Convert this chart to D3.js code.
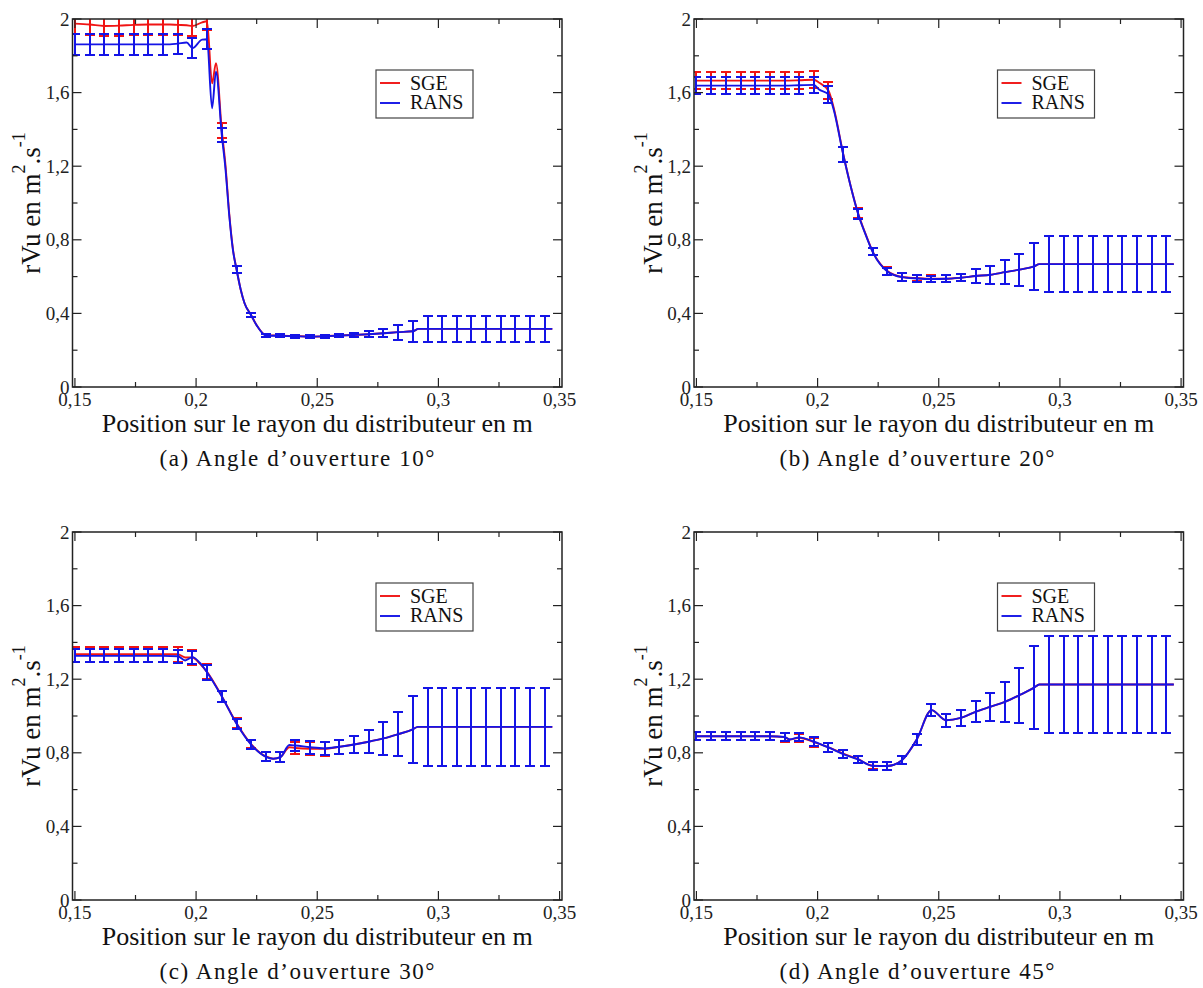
<!DOCTYPE html>
<html><head><meta charset="utf-8">
<script src="https://cdn.jsdelivr.net/npm/d3@7"></script>
<style>body{margin:0;background:#fff} svg{display:block}</style>
</head><body>
<svg id="chart" width="1203" height="988"></svg>
<script>
// ---------- shared labels ----------
const xMajorTicks = [0.15, 0.2, 0.25, 0.3, 0.35];
const xTickLabels = ["0,15", "0,2", "0,25", "0,3", "0,35"];
const xMinorTicks = [0.175, 0.225, 0.275, 0.325];
const yMajorTicks = [0, 0.4, 0.8, 1.2, 1.6, 2];
const yTickLabels = ["0", "0,4", "0,8", "1,2", "1,6", "2"];
const yMinorTicks = [0.2, 0.6, 1.0, 1.4, 1.8];
const seriesNames = ["SGE", "RANS"];
const xTitle = "Position sur le rayon du distributeur en m";
const captions = ["(a) Angle d\u2019ouverture 10\u00b0", "(b) Angle d\u2019ouverture 20\u00b0",
                  "(c) Angle d\u2019ouverture 30\u00b0", "(d) Angle d\u2019ouverture 45\u00b0"];

// ---------- panel (a) 10° ----------
const rA = [0.1500,0.1561,0.1621,0.1682,0.1742,0.1803,0.1864,0.1892,0.1924,0.1961,0.1985,0.2025,0.2045,0.2066,0.2082,0.2106,0.2121,0.2137,0.2152,0.2167,0.2184,0.2200,0.2227,0.2250,0.2288,0.2348,0.2409,0.2470,0.2530,0.2591,0.2652,0.2712,0.2773,0.2833,0.2894,0.2918,0.2955,0.3015,0.3076,0.3136,0.3197,0.3258,0.3318,0.3379,0.3439,0.3470];
const sgeA = [1.975,1.970,1.962,1.964,1.968,1.970,1.970,1.970,1.968,1.966,1.962,1.982,1.988,1.650,1.760,1.395,1.210,0.940,0.750,0.640,0.530,0.455,0.392,0.335,0.282,0.279,0.277,0.274,0.276,0.280,0.283,0.287,0.292,0.298,0.303,0.316,0.316,0.316,0.316,0.316,0.316,0.316,0.316,0.316,0.316,0.316];
const sgeErrA = [0.055,0.055,0.055,0.055,0.055,0.055,0.055,0,0.055,0,0.055,0,0.05,0,0,0.04,0,0,0,0.018,0,0,0.011,0,0.008,0.008,0.008,0.008,0.008,0.009,0.011,0.015,0.022,0.040,0.056,0,0.072,0.072,0.072,0.072,0.072,0.072,0.072,0.072,0.072,0];
const ransA = [1.862,1.862,1.862,1.862,1.862,1.862,1.862,1.862,1.866,1.872,1.842,1.888,1.890,1.515,1.714,1.370,1.190,0.930,0.745,0.638,0.530,0.455,0.390,0.335,0.280,0.278,0.276,0.274,0.276,0.279,0.283,0.287,0.292,0.298,0.303,0.316,0.316,0.316,0.316,0.316,0.316,0.316,0.316,0.316,0.316,0.316];
const ransErrA = [0.055,0.055,0.055,0.055,0.055,0.055,0.055,0,0.055,0,0.055,0,0.055,0,0,0.04,0,0,0,0.018,0,0,0.011,0,0.008,0.008,0.008,0.008,0.008,0.009,0.011,0.015,0.022,0.040,0.056,0,0.072,0.072,0.072,0.072,0.072,0.072,0.072,0.072,0.072,0];

// ---------- panel (b) 20° ----------
const rB = [0.1500,0.1561,0.1621,0.1682,0.1742,0.1803,0.1864,0.1924,0.1985,0.2005,0.2045,0.2066,0.2106,0.2137,0.2167,0.2197,0.2227,0.2288,0.2348,0.2409,0.2470,0.2530,0.2591,0.2652,0.2712,0.2773,0.2833,0.2894,0.2915,0.2955,0.3015,0.3076,0.3136,0.3197,0.3258,0.3318,0.3379,0.3439,0.3470];
const sgeB = [1.665,1.665,1.665,1.665,1.665,1.665,1.665,1.667,1.670,1.655,1.610,1.520,1.265,1.090,0.945,0.835,0.737,0.630,0.598,0.592,0.588,0.588,0.594,0.603,0.610,0.624,0.638,0.656,0.668,0.668,0.668,0.668,0.668,0.668,0.668,0.668,0.668,0.668,0.668];
const sgeErrB = [0.045,0.045,0.045,0.045,0.045,0.045,0.045,0.045,0.045,0,0.045,0,0.04,0,0.027,0,0.02,0.02,0.02,0.018,0.018,0.018,0.02,0.037,0.05,0.066,0.087,0.127,0,0.151,0.151,0.151,0.151,0.151,0.151,0.151,0.151,0.151,0];
const ransB = [1.638,1.638,1.638,1.638,1.638,1.638,1.638,1.640,1.642,1.618,1.590,1.510,1.262,1.088,0.942,0.832,0.735,0.628,0.597,0.590,0.587,0.588,0.594,0.603,0.610,0.624,0.638,0.656,0.668,0.668,0.668,0.668,0.668,0.668,0.668,0.668,0.668,0.668,0.668];
const ransErrB = [0.045,0.045,0.045,0.045,0.045,0.045,0.045,0.045,0.045,0,0.045,0,0.04,0,0.027,0,0.02,0.02,0.02,0.018,0.018,0.018,0.02,0.037,0.05,0.066,0.087,0.127,0,0.151,0.151,0.151,0.151,0.151,0.151,0.151,0.151,0.151,0];

// ---------- panel (c) 30° ----------
const rC = [0.1500,0.1561,0.1621,0.1682,0.1742,0.1803,0.1864,0.1924,0.1955,0.1985,0.2015,0.2045,0.2106,0.2167,0.2227,0.2288,0.2318,0.2348,0.2385,0.2409,0.2470,0.2530,0.2591,0.2652,0.2712,0.2773,0.2833,0.2894,0.2915,0.2955,0.3015,0.3076,0.3136,0.3197,0.3258,0.3318,0.3379,0.3439,0.3470];
const sgeC = [1.336,1.336,1.336,1.336,1.336,1.336,1.336,1.336,1.318,1.318,1.285,1.240,1.108,0.960,0.847,0.780,0.768,0.777,0.830,0.826,0.822,0.822,0.832,0.845,0.860,0.878,0.901,0.927,0.941,0.941,0.941,0.941,0.941,0.941,0.941,0.941,0.941,0.941,0.941];
const sgeErrC = [0.04,0.04,0.04,0.04,0.04,0.04,0.04,0.04,0,0.04,0,0.04,0.03,0.027,0.022,0.024,0,0.027,0,0.03,0.035,0.037,0.037,0.045,0.063,0.089,0.12,0.18,0,0.213,0.213,0.213,0.213,0.213,0.213,0.213,0.213,0.213,0];
const ransC = [1.327,1.327,1.327,1.327,1.327,1.327,1.327,1.325,1.302,1.320,1.290,1.238,1.106,0.958,0.845,0.778,0.768,0.776,0.842,0.840,0.830,0.824,0.833,0.845,0.860,0.878,0.901,0.927,0.941,0.941,0.941,0.941,0.941,0.941,0.941,0.941,0.941,0.941,0.941];
const ransErrC = [0.036,0.036,0.036,0.036,0.036,0.036,0.036,0.036,0,0.035,0,0.04,0.03,0.027,0.022,0.024,0,0.027,0,0.03,0.035,0.037,0.037,0.045,0.063,0.089,0.12,0.18,0,0.213,0.213,0.213,0.213,0.213,0.213,0.213,0.213,0.213,0];

// ---------- panel (d) 45° ----------
const rD = [0.1500,0.1561,0.1621,0.1682,0.1742,0.1803,0.1864,0.1885,0.1924,0.1985,0.2045,0.2106,0.2167,0.2227,0.2288,0.2348,0.2409,0.2470,0.2530,0.2591,0.2652,0.2712,0.2773,0.2833,0.2894,0.2915,0.2955,0.3015,0.3076,0.3136,0.3197,0.3258,0.3318,0.3379,0.3439,0.3470];
const sgeD = [0.890,0.890,0.890,0.890,0.890,0.890,0.885,0.872,0.882,0.858,0.830,0.795,0.765,0.730,0.728,0.760,0.872,1.032,0.977,0.990,1.023,1.050,1.077,1.113,1.154,1.171,1.171,1.171,1.171,1.171,1.171,1.171,1.171,1.171,1.171,1.171];
const sgeErrD = [0.022,0.022,0.022,0.022,0.022,0.022,0.025,0,0.022,0.025,0.025,0.022,0.02,0.02,0.022,0.022,0.03,0.032,0.035,0.043,0.057,0.076,0.107,0.15,0.225,0,0.265,0.265,0.265,0.265,0.265,0.265,0.265,0.265,0.265,0];
const ransD = [0.890,0.890,0.890,0.890,0.890,0.890,0.886,0.872,0.884,0.860,0.829,0.793,0.764,0.729,0.728,0.760,0.872,1.032,0.977,0.990,1.023,1.050,1.077,1.113,1.154,1.171,1.171,1.171,1.171,1.171,1.171,1.171,1.171,1.171,1.171,1.171];
const ransErrD = [0.022,0.022,0.022,0.022,0.022,0.022,0.022,0,0.022,0.025,0.025,0.022,0.02,0.02,0.022,0.022,0.03,0.032,0.035,0.043,0.057,0.076,0.107,0.15,0.225,0,0.265,0.265,0.265,0.265,0.265,0.265,0.265,0.265,0.265,0];

// ---------- drawing ----------
const panels = [
  {r: rA, s: [sgeA, ransA], e: [sgeErrA, ransErrA], left: 72.5, top: 19},
  {r: rB, s: [sgeB, ransB], e: [sgeErrB, ransErrB], left: 694, top: 19},
  {r: rC, s: [sgeC, ransC], e: [sgeErrC, ransErrC], left: 72.5, top: 532},
  {r: rD, s: [sgeD, ransD], e: [sgeErrD, ransErrD], left: 694, top: 532}
];
const W = 489.5, H = 368;
const colors = ["#f01414", "#1414e6"];
const FONT = "'Liberation Serif','Times New Roman',serif";
const ink = "#222";

const svg = d3.select("#chart");

panels.forEach((p, i) => {
  const g = svg.append("g").attr("transform", `translate(${p.left},${p.top})`);
  const x = d3.scaleLinear().domain([0.149, 0.351]).range([0, W]);
  const y = d3.scaleLinear().domain([0, 2]).range([H, 0]);
  const px = v => Math.round(x(v) + p.left) - p.left;   // snap to device pixels
  const py = v => Math.round(y(v) + p.top) - p.top;

  const clipId = "clip" + i;
  g.append("clipPath").attr("id", clipId).append("rect").attr("width", W).attr("height", H);
  const plot = g.append("g").attr("clip-path", `url(#${clipId})`);

  [0, 1].forEach(si => {
    const vals = p.s[si], errs = p.e[si];
    const pts = p.r.map((r, k) => ({r, v: vals[k], e: errs[k]}));
    const line = d3.line().x(d => x(d.r)).y(d => y(d.v)).curve(d3.curveMonotoneX);
    plot.append("path").datum(pts).attr("d", line)
      .attr("fill", "none").attr("stroke", colors[si]).attr("stroke-width", 1.9);
    const bars = pts.filter(d => d.e > 0);
    const cap = 5;
    const eg = plot.append("g").attr("stroke", colors[si]).attr("stroke-width", 2)
      .attr("shape-rendering", "crispEdges");
    eg.selectAll("line.v").data(bars).join("line").attr("class", "v")
      .attr("x1", d => px(d.r)).attr("x2", d => px(d.r))
      .attr("y1", d => py(d.v - d.e)).attr("y2", d => py(d.v + d.e));
    eg.selectAll("line.t").data(bars).join("line").attr("class", "t")
      .attr("x1", d => px(d.r) - cap).attr("x2", d => px(d.r) + cap)
      .attr("y1", d => py(d.v + d.e)).attr("y2", d => py(d.v + d.e));
    eg.selectAll("line.b").data(bars).join("line").attr("class", "b")
      .attr("x1", d => px(d.r) - cap).attr("x2", d => px(d.r) + cap)
      .attr("y1", d => py(d.v - d.e)).attr("y2", d => py(d.v - d.e));
  });

  // frame
  g.append("rect").attr("width", W).attr("height", H).attr("fill", "none")
    .attr("stroke", ink).attr("stroke-width", 1.5);

  // ticks (inward, all four sides)
  const tk = g.append("g").attr("stroke", ink).attr("stroke-width", 1.2);
  const addX = (vals, len) => vals.forEach(v => {
    tk.append("line").attr("x1", x(v)).attr("x2", x(v)).attr("y1", H).attr("y2", H - len);
    tk.append("line").attr("x1", x(v)).attr("x2", x(v)).attr("y1", 0).attr("y2", len);
  });
  const addY = (vals, len) => vals.forEach(v => {
    tk.append("line").attr("y1", y(v)).attr("y2", y(v)).attr("x1", 0).attr("x2", len);
    tk.append("line").attr("y1", y(v)).attr("y2", y(v)).attr("x1", W).attr("x2", W - len);
  });
  addX(xMajorTicks, 9); addX(xMinorTicks, 5);
  addY(yMajorTicks, 9); addY(yMinorTicks, 5);

  // tick labels
  xMajorTicks.forEach((v, k) => {
    g.append("text").attr("x", x(v)).attr("y", H + 19).attr("text-anchor", "middle")
      .attr("font-family", FONT).attr("font-size", 19).attr("fill", ink).text(xTickLabels[k]);
  });
  yMajorTicks.forEach((v, k) => {
    g.append("text").attr("x", -3).attr("y", y(v) + 6.5).attr("text-anchor", "end")
      .attr("font-family", FONT).attr("font-size", 19).attr("fill", ink).text(yTickLabels[k]);
  });

  // x title
  g.append("text").attr("x", W / 2).attr("y", H + 45).attr("text-anchor", "middle")
    .attr("font-family", FONT).attr("font-size", 26).attr("fill", "#111").text(xTitle);

  // y title with superscripts
  const yt = g.append("text").attr("transform", `translate(-32.5,${H / 2}) rotate(-90)`)
    .attr("text-anchor", "middle").attr("font-family", FONT).attr("font-size", 27).attr("fill", "#111");
  yt.append("tspan").text("rVu en m");
  yt.append("tspan").attr("dy", -15).attr("font-size", 18).text("2");
  yt.append("tspan").attr("dy", 15).text(".s");
  yt.append("tspan").attr("dy", -15).attr("font-size", 18).text("-1");

  // legend
  const lg = g.append("g").attr("transform", "translate(303.5,51)");
  lg.append("rect").attr("width", 97).attr("height", 48).attr("fill", "#fff")
    .attr("stroke", "#444").attr("stroke-width", 1.2);
  seriesNames.forEach((nm, k) => {
    lg.append("line").attr("x1", 4).attr("x2", 24).attr("y1", 13 + 20 * k).attr("y2", 13 + 20 * k)
      .attr("stroke", colors[k]).attr("stroke-width", 1.9);
    lg.append("text").attr("x", 34).attr("y", 19.5 + 19.5 * k).attr("font-family", FONT)
      .attr("font-size", 20).attr("fill", "#111").text(nm);
  });

  // caption
  g.append("text").attr("x", (i % 2 === 0 ? 297 : 917) - p.left).attr("y", H + 79)
    .attr("text-anchor", "middle").attr("font-family", FONT).attr("font-size", 23)
    .attr("textLength", 275).attr("lengthAdjust", "spacing").attr("fill", "#111").text(captions[i]);
});
</script>
</body></html>
